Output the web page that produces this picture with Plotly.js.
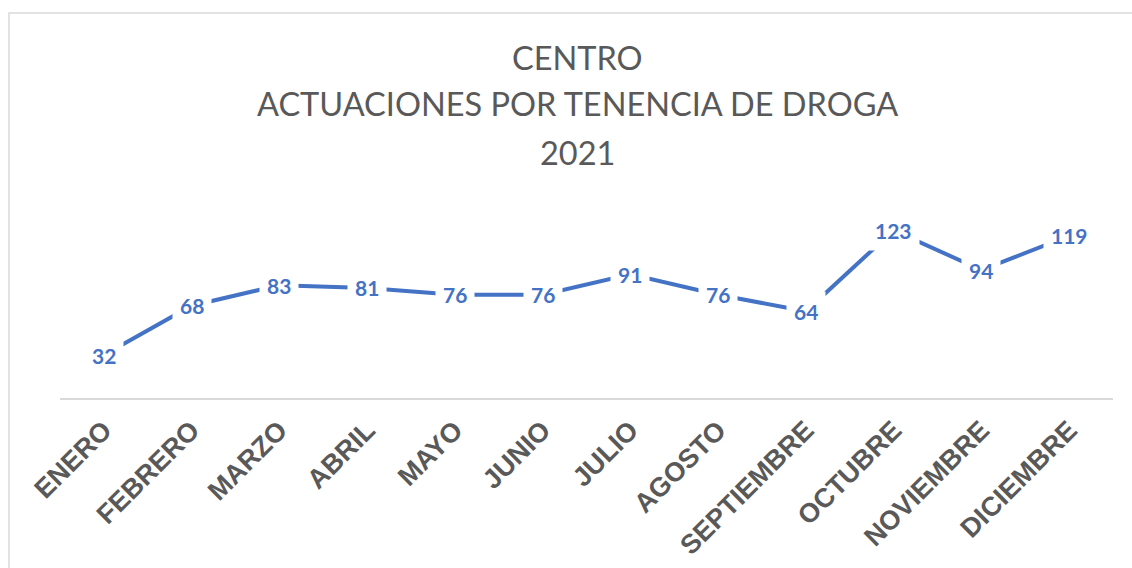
<!DOCTYPE html>
<html>
<head>
<meta charset="utf-8">
<script src="https://cdn.plot.ly/plotly-3.0.1.min.js"></script>
<style>
html,body{margin:0;padding:0;background:#fff;}
#chart{width:1132px;height:568px;}
</style>
</head>
<body>
<div id="chart"></div>
<script>
const months = ["ENERO","FEBRERO","MARZO","ABRIL","MAYO","JUNIO","JULIO","AGOSTO","SEPTIEMBRE","OCTUBRE","NOVIEMBRE","DICIEMBRE"];
const values = [32, 68, 83, 81, 76, 76, 91, 76, 64, 123, 94, 119];
const titleLines = ["CENTRO", "ACTUACIONES POR TENENCIA DE DROGA", "2021"];

const blue = "#4472C4";
const grey = "#595959";

const trace = {
  x: months,
  y: values,
  type: "scatter",
  mode: "lines",
  line: {color: blue, width: 4},
  hoverinfo: "x+y",
  showlegend: false
};

const labelAnnotations = months.map((m, i) => ({
  x: m, y: values[i], xref: "x", yref: "y",
  text: String(values[i]),
  showarrow: false,
  bgcolor: "#ffffff",
  borderpad: 7,
  font: {family: "Lato, 'Open Sans', sans-serif", size: 21, color: blue, weight: "bold"}
}));

const titleY = [1.78, 1.54, 1.285];
const titleAnnotations = titleLines.map((t, i) => ({
  x: 0.4915, y: titleY[i], xref: "paper", yref: "paper",
  text: t, showarrow: false,
  xanchor: "center", yanchor: "middle",
  font: {family: "Lato, 'Open Sans', sans-serif", size: 32.5, color: grey}
}));

const layout = {
  width: 1132, height: 568,
  margin: {l: 60, r: 19, t: 207, b: 169},
  paper_bgcolor: "#ffffff",
  plot_bgcolor: "#ffffff",
  xaxis: {
    type: "category",
    range: [-0.5, 11.5],
    showgrid: false,
    zeroline: false,
    showline: false,
    ticks: "",
    tickangle: -45,
    ticklabelstandoff: 9,
    tickfont: {family: "'Liberation Sans', Arial, sans-serif", size: 27, color: grey, weight: "bold"},
    fixedrange: true
  },
  yaxis: {
    range: [0, 140],
    showgrid: false,
    zeroline: true,
    zerolinecolor: "#d9d9d9",
    zerolinewidth: 1.5,
    showticklabels: false,
    showline: false,
    ticks: "",
    fixedrange: true
  },
  shapes: [{
    type: "rect", xref: "paper", yref: "paper",
    x0: -0.0484, x1: 1.2, y0: -1.0, y1: 2.0104,
    line: {color: "#d9d9d9", width: 1.5},
    fillcolor: "rgba(0,0,0,0)",
    layer: "below"
  }],
  annotations: titleAnnotations.concat(labelAnnotations)
};

Plotly.newPlot("chart", [trace], layout, {displayModeBar: false, staticPlot: true});
</script>
</body>
</html>
